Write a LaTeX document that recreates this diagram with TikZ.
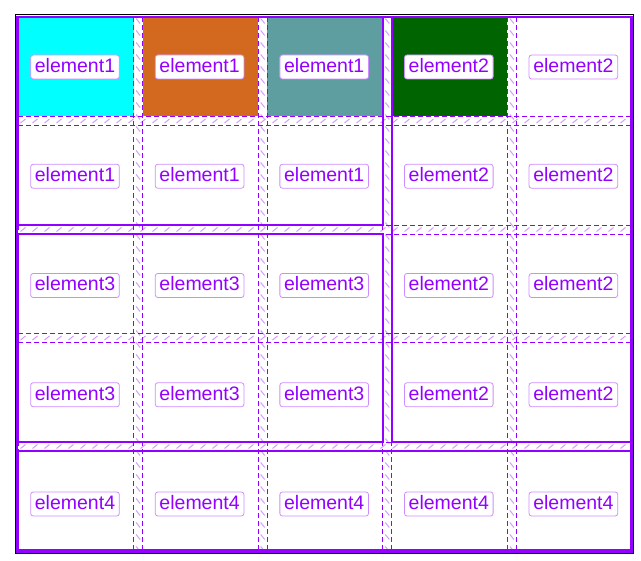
\documentclass[tikz,border=0pt]{standalone}
\usepackage{fontspec}
\setmainfont{Liberation Sans}
\definecolor{gridpurple}{HTML}{9400FF}
\definecolor{cellcyan}{HTML}{00FFFF}
\definecolor{cellchoc}{HTML}{D2691E}
\definecolor{cellcadet}{HTML}{5F9EA0}
\definecolor{cellgreen}{HTML}{006400}
\tikzset{
  gridline/.style={gridpurple, line width=0.8pt, dash pattern=on 5pt off 3pt},
  hatchmark/.style={gridpurple!40, line width=1pt},
  areaborder/.style={gridpurple, line width=2.4pt},
  arealabel/.style={fill=white, draw=gridpurple!45, line width=0.8pt, rounded corners=2.5pt,
    text=gridpurple, font=\fontsize{19.5}{22}\selectfont, inner xsep=4.2pt, inner ysep=3pt,
    text height=14.5pt, text depth=3.5pt}
}
\begin{document}
\begin{tikzpicture}[x=1pt,y=-1pt]
\useasboundingbox (0,0) rectangle (641,561);
% cell backgrounds (row 1)
\def\cellfill#1#2{%
  \pgfmathsetmacro\xl{18+(#1-1)*124.6}%
  \pgfmathsetmacro\xr{\xl+115.6}%
  \fill[#2] (\xl,17) rectangle (\xr,116.5);}
\cellfill{1}{cellcyan}
\cellfill{2}{cellchoc}
\cellfill{3}{cellcadet}
\cellfill{4}{cellgreen}
% hatching in vertical gaps
\foreach \i in {1,...,4} {
  \pgfmathsetmacro\xc{18+(\i-1)*124.6+115.6+4.5}
  \foreach \y in {21,33,...,549} {
    \draw[hatchmark] (\xc-2,\y-2.5) -- (\xc+2,\y+2.5);
  }
}
% hatching in horizontal gaps
\foreach \j in {1,...,4} {
  \pgfmathsetmacro\yc{17+(\j-1)*108.5+99.5+4.5}
  \foreach \x in {23,35,...,630} {
    \draw[hatchmark] (\x-2.5,\yc+2) -- (\x+2.5,\yc-2);
  }
}
% dashed grid lines
\foreach \i in {1,...,5} {
  \pgfmathsetmacro\xl{18+(\i-1)*124.6}
  \pgfmathsetmacro\xr{\xl+115.6}
  \draw[gridline] (\xl,17) -- (\xl,550.5);
  \draw[gridline] (\xr,17) -- (\xr,550.5);
}
\foreach \j in {1,...,5} {
  \pgfmathsetmacro\yt{17+(\j-1)*108.5}
  \pgfmathsetmacro\yb{\yt+99.5}
  \draw[gridline] (18,\yt) -- (632,\yt);
  \draw[gridline] (18,\yb) -- (632,\yb);
}
% area borders
\draw[areaborder] (18,17) rectangle (382.8,225);
\draw[areaborder] (391.8,17) rectangle (632,442);
\draw[areaborder] (18,234) rectangle (382.8,442);
\draw[areaborder] (18,451) rectangle (632,550.5);
% container border
\draw[black, line width=1pt] (15.2,15) rectangle (633.2,553.2);
\draw[gridpurple, line width=2.6pt] (17,17) rectangle (631.7,551.7);
% labels
\foreach \r in {1,...,5} {
  \foreach \c in {1,...,5} {
    \pgfmathsetmacro\xm{18+(\c-1)*124.6+57.0}
    \pgfmathsetmacro\ym{67+(\r-1)*109.25}
    \pgfmathtruncatemacro\e{\r==5 ? 4 : (\c>=4 ? 2 : (\r<=2 ? 1 : 3))}
    \node[arealabel] (lab-\r-\c) at (\xm,\ym) {element\e};
  }
}
\end{tikzpicture}
\end{document}
